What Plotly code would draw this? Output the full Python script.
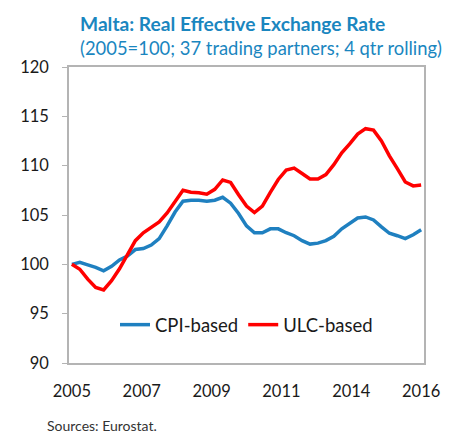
import plotly.graph_objects as go

# Quarterly, 2005Q1 .. 2016Q1 (45 observations)
quarters = [f"{y}Q{q}" for y in range(2005, 2017) for q in range(1, 5)][:45]

cpi_based = [100.0, 100.2, 99.95, 99.7, 99.35, 99.8, 100.45, 100.85, 101.5, 101.6,
             101.95, 102.6, 103.9, 105.3, 106.4, 106.5, 106.5, 106.4, 106.5, 106.8,
             106.2, 105.15, 103.9, 103.2, 103.2, 103.6, 103.6, 103.2, 102.9, 102.4,
             102.05, 102.15, 102.4, 102.85, 103.6, 104.2, 104.7, 104.8, 104.5, 103.8,
             103.15, 102.9, 102.6, 103.0, 103.5]

ulc_based = [100.0, 99.5, 98.5, 97.65, 97.4, 98.35, 99.55, 101.05, 102.4, 103.2,
             103.75, 104.3, 105.2, 106.4, 107.5, 107.3, 107.25, 107.1, 107.6, 108.55,
             108.3, 107.05, 105.9, 105.25, 105.9, 107.3, 108.6, 109.55, 109.75, 109.2,
             108.65, 108.65, 109.1, 110.1, 111.3, 112.2, 113.2, 113.75, 113.6, 112.5,
             111.0, 109.7, 108.35, 107.95, 108.05]

tick_labels = ["2005", "2007", "2009", "2011", "2014", "2016"]

x_idx = list(range(len(quarters)))
n_lab = len(tick_labels)
tick_pos = [i * (len(quarters) - 1) / (n_lab - 1) for i in range(n_lab)]

FONT = "Lato, 'Open Sans', sans-serif"
TITLE_COL = "#1a86bf"
BLUE = "#1f80c0"
RED = "#ff0000"
AXIS_COL = "#b4b4b4"

fig = go.Figure()
fig.add_trace(go.Scatter(x=x_idx, y=cpi_based, mode="lines", name="CPI-based",
                         line=dict(color=BLUE, width=3.5), text=quarters,
                         hovertemplate="%{text}: %{y}<extra></extra>"))
fig.add_trace(go.Scatter(x=x_idx, y=ulc_based, mode="lines", name="ULC-based",
                         line=dict(color=RED, width=3.5), text=quarters,
                         hovertemplate="%{text}: %{y}<extra></extra>"))

# The page body has an 8px margin, so the figure is sized/positioned to compensate
fig.update_layout(
    width=444, height=424,
    margin=dict(l=51, r=16, t=59, b=69),
    paper_bgcolor="white", plot_bgcolor="white",
    font=dict(family=FONT, size=16, color="#1a1a1a"),
    showlegend=True,
    legend=dict(orientation="h", x=0.5, xanchor="center", y=0.128, yanchor="middle",
                bgcolor="rgba(0,0,0,0)", font=dict(size=18.5, color="#1a1a1a"),
                itemwidth=30, tracegroupgap=0),
    annotations=[
        dict(text="<b>Malta: Real Effective Exchange Rate</b>", xref="paper", yref="paper",
             x=0.024, y=1.0, xanchor="left", yanchor="middle", yshift=44, showarrow=False,
             font=dict(size=19.2, color=TITLE_COL, family=FONT)),
        dict(text="(2005=100; 37 trading partners; 4 qtr rolling)", xref="paper", yref="paper",
             x=0.024, y=1.0, xanchor="left", yanchor="middle", yshift=19, showarrow=False,
             font=dict(size=18.4, color=TITLE_COL, family=FONT)),
        dict(text="Sources: Eurostat.", xref="paper", yref="paper",
             x=-0.069, y=0, xanchor="left", yanchor="top", yshift=-52, showarrow=False,
             font=dict(size=14, color="#333333", family=FONT)),
    ],
)

fig.update_xaxes(range=[-0.36, len(quarters) - 1 + 0.36], tickmode="array",
                 tickvals=tick_pos, ticktext=tick_labels, ticks="",
                 showline=True, linecolor=AXIS_COL, linewidth=1.5, mirror=True,
                 showgrid=False, zeroline=False, ticklabelstandoff=12,
                 ticklabeloverflow="allow",
                 tickfont=dict(size=16.5, color="#1a1a1a"))
fig.update_yaxes(range=[90, 120], dtick=5, ticks="outside", ticklen=5, tickcolor=AXIS_COL,
                 showline=True, linecolor=AXIS_COL, linewidth=1.5, mirror=True,
                 showgrid=False, zeroline=False, ticklabelstandoff=10,
                 tickfont=dict(size=16.5, color="#1a1a1a"))

fig.write_html("out.html")
